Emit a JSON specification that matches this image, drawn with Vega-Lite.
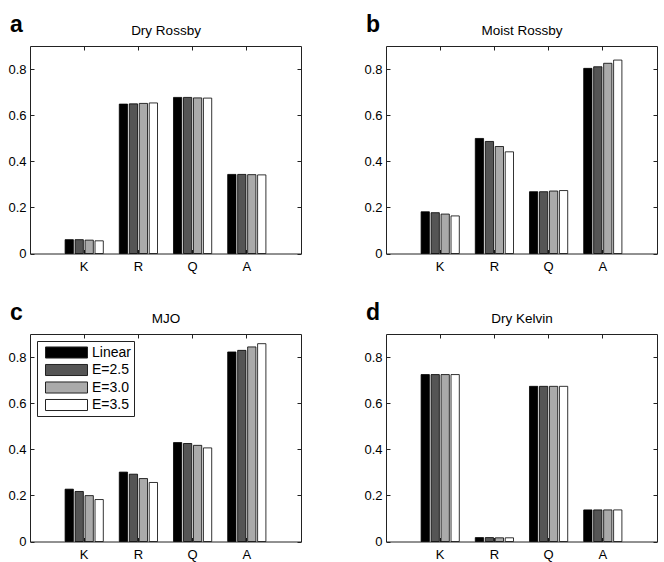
{
  "$schema": "https://vega.github.io/schema/vega-lite/v6.json",
  "autosize": {"type": "pad"},
  "padding": {"left": 7, "top": 13, "right": 0, "bottom": 0},
  "background": "white",
  "config": {
    "font": "Liberation Sans",
    "view": {"stroke": "#222", "strokeWidth": 1},
    "axis": {
      "domain": false,
      "grid": false,
      "tickColor": "#222",
      "tickSize": -4,
      "labelFont": "Liberation Sans",
      "labelFontSize": 13,
      "labelColor": "black",
      "titleFont": "Liberation Sans",
      "titleFontSize": 13.5,
      "titleFontWeight": "normal",
      "titleColor": "black"
    },
    "title": {"font": "Liberation Sans", "fontSize": 23, "fontWeight": "bold", "color": "black", "anchor": "start", "frame": "group", "dx": -20, "offset": -13.5, "baseline": "alphabetic"}
  },
  "datasets": {
    "bars": [
      {"panel": "a", "mode": "K", "series": "Linear", "value": 0.060},
      {"panel": "a", "mode": "K", "series": "E=2.5", "value": 0.060},
      {"panel": "a", "mode": "K", "series": "E=3.0", "value": 0.058},
      {"panel": "a", "mode": "K", "series": "E=3.5", "value": 0.055},
      {"panel": "a", "mode": "R", "series": "Linear", "value": 0.648},
      {"panel": "a", "mode": "R", "series": "E=2.5", "value": 0.649},
      {"panel": "a", "mode": "R", "series": "E=3.0", "value": 0.651},
      {"panel": "a", "mode": "R", "series": "E=3.5", "value": 0.653},
      {"panel": "a", "mode": "Q", "series": "Linear", "value": 0.677},
      {"panel": "a", "mode": "Q", "series": "E=2.5", "value": 0.677},
      {"panel": "a", "mode": "Q", "series": "E=3.0", "value": 0.675},
      {"panel": "a", "mode": "Q", "series": "E=3.5", "value": 0.674},
      {"panel": "a", "mode": "A", "series": "Linear", "value": 0.343},
      {"panel": "a", "mode": "A", "series": "E=2.5", "value": 0.343},
      {"panel": "a", "mode": "A", "series": "E=3.0", "value": 0.342},
      {"panel": "a", "mode": "A", "series": "E=3.5", "value": 0.341},
      {"panel": "b", "mode": "K", "series": "Linear", "value": 0.181},
      {"panel": "b", "mode": "K", "series": "E=2.5", "value": 0.177},
      {"panel": "b", "mode": "K", "series": "E=3.0", "value": 0.171},
      {"panel": "b", "mode": "K", "series": "E=3.5", "value": 0.163},
      {"panel": "b", "mode": "R", "series": "Linear", "value": 0.499},
      {"panel": "b", "mode": "R", "series": "E=2.5", "value": 0.486},
      {"panel": "b", "mode": "R", "series": "E=3.0", "value": 0.464},
      {"panel": "b", "mode": "R", "series": "E=3.5", "value": 0.441},
      {"panel": "b", "mode": "Q", "series": "Linear", "value": 0.268},
      {"panel": "b", "mode": "Q", "series": "E=2.5", "value": 0.268},
      {"panel": "b", "mode": "Q", "series": "E=3.0", "value": 0.271},
      {"panel": "b", "mode": "Q", "series": "E=3.5", "value": 0.273},
      {"panel": "b", "mode": "A", "series": "Linear", "value": 0.803},
      {"panel": "b", "mode": "A", "series": "E=2.5", "value": 0.810},
      {"panel": "b", "mode": "A", "series": "E=3.0", "value": 0.825},
      {"panel": "b", "mode": "A", "series": "E=3.5", "value": 0.839},
      {"panel": "c", "mode": "K", "series": "Linear", "value": 0.227},
      {"panel": "c", "mode": "K", "series": "E=2.5", "value": 0.217},
      {"panel": "c", "mode": "K", "series": "E=3.0", "value": 0.199},
      {"panel": "c", "mode": "K", "series": "E=3.5", "value": 0.182},
      {"panel": "c", "mode": "R", "series": "Linear", "value": 0.301},
      {"panel": "c", "mode": "R", "series": "E=2.5", "value": 0.292},
      {"panel": "c", "mode": "R", "series": "E=3.0", "value": 0.273},
      {"panel": "c", "mode": "R", "series": "E=3.5", "value": 0.256},
      {"panel": "c", "mode": "Q", "series": "Linear", "value": 0.429},
      {"panel": "c", "mode": "Q", "series": "E=2.5", "value": 0.425},
      {"panel": "c", "mode": "Q", "series": "E=3.0", "value": 0.417},
      {"panel": "c", "mode": "Q", "series": "E=3.5", "value": 0.406},
      {"panel": "c", "mode": "A", "series": "Linear", "value": 0.822},
      {"panel": "c", "mode": "A", "series": "E=2.5", "value": 0.829},
      {"panel": "c", "mode": "A", "series": "E=3.0", "value": 0.844},
      {"panel": "c", "mode": "A", "series": "E=3.5", "value": 0.858},
      {"panel": "d", "mode": "K", "series": "Linear", "value": 0.724},
      {"panel": "d", "mode": "K", "series": "E=2.5", "value": 0.724},
      {"panel": "d", "mode": "K", "series": "E=3.0", "value": 0.724},
      {"panel": "d", "mode": "K", "series": "E=3.5", "value": 0.724},
      {"panel": "d", "mode": "R", "series": "Linear", "value": 0.017},
      {"panel": "d", "mode": "R", "series": "E=2.5", "value": 0.017},
      {"panel": "d", "mode": "R", "series": "E=3.0", "value": 0.016},
      {"panel": "d", "mode": "R", "series": "E=3.5", "value": 0.016},
      {"panel": "d", "mode": "Q", "series": "Linear", "value": 0.673},
      {"panel": "d", "mode": "Q", "series": "E=2.5", "value": 0.673},
      {"panel": "d", "mode": "Q", "series": "E=3.0", "value": 0.673},
      {"panel": "d", "mode": "Q", "series": "E=3.5", "value": 0.673},
      {"panel": "d", "mode": "A", "series": "Linear", "value": 0.137},
      {"panel": "d", "mode": "A", "series": "E=2.5", "value": 0.137},
      {"panel": "d", "mode": "A", "series": "E=3.0", "value": 0.137},
      {"panel": "d", "mode": "A", "series": "E=3.5", "value": 0.137}
    ]
  },
  "bounds": "flush",
  "columns": 2,
  "spacing": {"row": 80, "column": 85},
  "resolve": {"scale": {"fill": "independent"}, "legend": {"fill": "independent"}},
  "concat": [
    {
      "title": {"text": "a"},
      "width": 271,
      "height": 207.5,
      "data": {"name": "bars"},
      "transform": [{"filter": "datum.panel === 'a'"}],
      "layer": [
        {
          "mark": {"type": "bar", "stroke": "black", "strokeWidth": 0.8},
          "encoding": {
            "x": {"field": "mode", "type": "nominal", "sort": ["K", "R", "Q", "A"], "scale": {"paddingInner": 0.295, "paddingOuter": 0.6475}, "axis": {"orient": "bottom", "title": null, "labelAngle": 0, "labelPadding": 11}},
            "xOffset": {"field": "series", "type": "nominal", "sort": ["Linear", "E=2.5", "E=3.0", "E=3.5"], "scale": {"paddingInner": 0.17, "paddingOuter": 0}},
            "y": {"field": "value", "type": "quantitative", "stack": null, "scale": {"domain": [0, 0.9], "nice": false}, "axis": {"orient": "left", "title": null, "values": [0, 0.2, 0.4, 0.6, 0.8], "format": "~g", "labelPadding": 8}},
            "fill": {"field": "series", "type": "nominal", "sort": ["Linear", "E=2.5", "E=3.0", "E=3.5"], "scale": {"domain": ["Linear", "E=2.5", "E=3.0", "E=3.5"], "range": ["#000000", "#555555", "#aaaaaa", "#ffffff"]}, "legend": null}
          }
        },
        {
          "mark": {"type": "point", "opacity": 0},
          "encoding": {
            "x": {"field": "mode", "type": "nominal", "sort": ["K", "R", "Q", "A"], "axis": {"orient": "top", "labels": false, "title": "Dry Rossby", "titlePadding": 8}},
            "y": {"field": "value", "type": "quantitative", "axis": {"orient": "right", "labels": false, "title": null, "values": [0, 0.2, 0.4, 0.6, 0.8]}}
          }
        }
      ],
      "resolve": {"axis": {"x": "independent", "y": "independent"}}
    },
    {
      "title": {"text": "b"},
      "width": 271,
      "height": 207.5,
      "data": {"name": "bars"},
      "transform": [{"filter": "datum.panel === 'b'"}],
      "layer": [
        {
          "mark": {"type": "bar", "stroke": "black", "strokeWidth": 0.8},
          "encoding": {
            "x": {"field": "mode", "type": "nominal", "sort": ["K", "R", "Q", "A"], "scale": {"paddingInner": 0.295, "paddingOuter": 0.6475}, "axis": {"orient": "bottom", "title": null, "labelAngle": 0, "labelPadding": 11}},
            "xOffset": {"field": "series", "type": "nominal", "sort": ["Linear", "E=2.5", "E=3.0", "E=3.5"], "scale": {"paddingInner": 0.17, "paddingOuter": 0}},
            "y": {"field": "value", "type": "quantitative", "stack": null, "scale": {"domain": [0, 0.9], "nice": false}, "axis": {"orient": "left", "title": null, "values": [0, 0.2, 0.4, 0.6, 0.8], "format": "~g", "labelPadding": 8}},
            "fill": {"field": "series", "type": "nominal", "sort": ["Linear", "E=2.5", "E=3.0", "E=3.5"], "scale": {"domain": ["Linear", "E=2.5", "E=3.0", "E=3.5"], "range": ["#000000", "#555555", "#aaaaaa", "#ffffff"]}, "legend": null}
          }
        },
        {
          "mark": {"type": "point", "opacity": 0},
          "encoding": {
            "x": {"field": "mode", "type": "nominal", "sort": ["K", "R", "Q", "A"], "axis": {"orient": "top", "labels": false, "title": "Moist Rossby", "titlePadding": 8}},
            "y": {"field": "value", "type": "quantitative", "axis": {"orient": "right", "labels": false, "title": null, "values": [0, 0.2, 0.4, 0.6, 0.8]}}
          }
        }
      ],
      "resolve": {"axis": {"x": "independent", "y": "independent"}}
    },
    {
      "title": {"text": "c"},
      "width": 271,
      "height": 207.5,
      "data": {"name": "bars"},
      "transform": [{"filter": "datum.panel === 'c'"}],
      "layer": [
        {
          "mark": {"type": "bar", "stroke": "black", "strokeWidth": 0.8},
          "encoding": {
            "x": {"field": "mode", "type": "nominal", "sort": ["K", "R", "Q", "A"], "scale": {"paddingInner": 0.295, "paddingOuter": 0.6475}, "axis": {"orient": "bottom", "title": null, "labelAngle": 0, "labelPadding": 11}},
            "xOffset": {"field": "series", "type": "nominal", "sort": ["Linear", "E=2.5", "E=3.0", "E=3.5"], "scale": {"paddingInner": 0.17, "paddingOuter": 0}},
            "y": {"field": "value", "type": "quantitative", "stack": null, "scale": {"domain": [0, 0.9], "nice": false}, "axis": {"orient": "left", "title": null, "values": [0, 0.2, 0.4, 0.6, 0.8], "format": "~g", "labelPadding": 8}},
            "fill": {
              "field": "series", "type": "nominal", "sort": ["Linear", "E=2.5", "E=3.0", "E=3.5"],
              "scale": {"domain": ["Linear", "E=2.5", "E=3.0", "E=3.5"], "range": ["#000000", "#555555", "#aaaaaa", "#ffffff"]},
              "legend": {
                "title": null,
                "orient": "top-left",
                "offset": 7,
                "padding": 3,
                "rowPadding": 0.5,
                "strokeColor": "#222",
                "fillColor": "white",
                "symbolType": "M-0.375,-0.69H4.875V0.69H-0.375Z",
                "symbolSize": 256,
                "symbolStrokeColor": "#222",
                "symbolStrokeWidth": 1,
                "symbolOpacity": 1,
                "labelOffset": 35,
                "labelFont": "Liberation Sans",
                "labelFontSize": 14,
                "labelColor": "black"
              }
            }
          }
        },
        {
          "mark": {"type": "point", "opacity": 0},
          "encoding": {
            "x": {"field": "mode", "type": "nominal", "sort": ["K", "R", "Q", "A"], "axis": {"orient": "top", "labels": false, "title": "MJO", "titlePadding": 8}},
            "y": {"field": "value", "type": "quantitative", "axis": {"orient": "right", "labels": false, "title": null, "values": [0, 0.2, 0.4, 0.6, 0.8]}}
          }
        }
      ],
      "resolve": {"axis": {"x": "independent", "y": "independent"}}
    },
    {
      "title": {"text": "d"},
      "width": 271,
      "height": 207.5,
      "data": {"name": "bars"},
      "transform": [{"filter": "datum.panel === 'd'"}],
      "layer": [
        {
          "mark": {"type": "bar", "stroke": "black", "strokeWidth": 0.8},
          "encoding": {
            "x": {"field": "mode", "type": "nominal", "sort": ["K", "R", "Q", "A"], "scale": {"paddingInner": 0.295, "paddingOuter": 0.6475}, "axis": {"orient": "bottom", "title": null, "labelAngle": 0, "labelPadding": 11}},
            "xOffset": {"field": "series", "type": "nominal", "sort": ["Linear", "E=2.5", "E=3.0", "E=3.5"], "scale": {"paddingInner": 0.17, "paddingOuter": 0}},
            "y": {"field": "value", "type": "quantitative", "stack": null, "scale": {"domain": [0, 0.9], "nice": false}, "axis": {"orient": "left", "title": null, "values": [0, 0.2, 0.4, 0.6, 0.8], "format": "~g", "labelPadding": 8}},
            "fill": {"field": "series", "type": "nominal", "sort": ["Linear", "E=2.5", "E=3.0", "E=3.5"], "scale": {"domain": ["Linear", "E=2.5", "E=3.0", "E=3.5"], "range": ["#000000", "#555555", "#aaaaaa", "#ffffff"]}, "legend": null}
          }
        },
        {
          "mark": {"type": "point", "opacity": 0},
          "encoding": {
            "x": {"field": "mode", "type": "nominal", "sort": ["K", "R", "Q", "A"], "axis": {"orient": "top", "labels": false, "title": "Dry Kelvin", "titlePadding": 8}},
            "y": {"field": "value", "type": "quantitative", "axis": {"orient": "right", "labels": false, "title": null, "values": [0, 0.2, 0.4, 0.6, 0.8]}}
          }
        }
      ],
      "resolve": {"axis": {"x": "independent", "y": "independent"}}
    }
  ]
}
